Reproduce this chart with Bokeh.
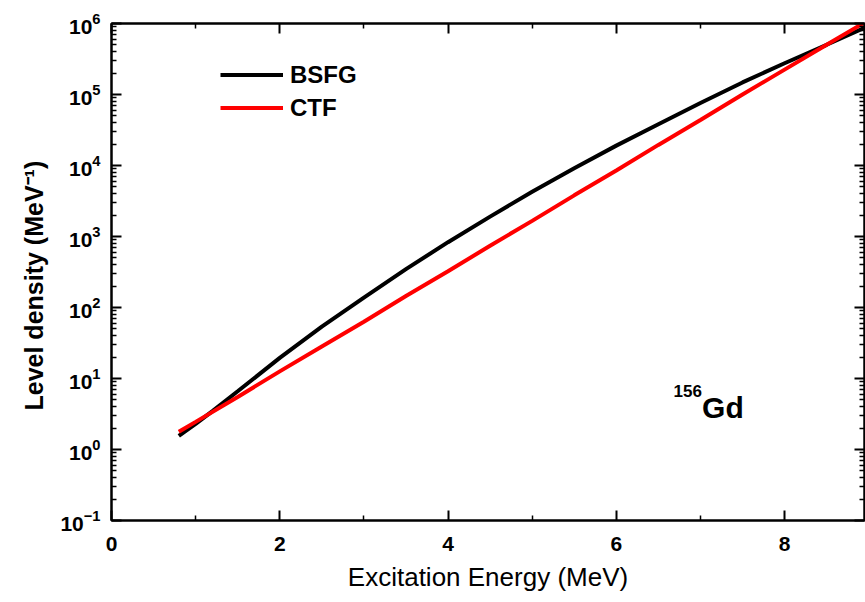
from bokeh.plotting import figure
from bokeh.models import (Range1d, LinearAxis, LogAxis, FixedTicker, Legend,
                          LegendItem, Label, Title)
from bokeh.embed import file_html
from bokeh.resources import INLINE

# ---- data ----
energy = [0.8, 1.0, 1.2, 1.5, 2.0, 2.5, 3.0, 3.5, 4.0, 4.5, 5.0, 5.5,
          6.0, 6.5, 7.0, 7.5, 8.0, 8.5, 8.95]
bsfg = [1.55, 2.29, 3.47, 6.61, 19.5, 53.7, 138.0, 347.0, 832.0, 1905.0,
        4266.0, 9120.0, 19050.0, 38020.0, 75860.0, 147900.0, 275400.0,
        501200.0, 871000.0]
ctf_energy = [0.8, 1.0, 1.5, 2.0, 2.5, 3.0, 3.5, 4.0, 4.5, 5.0, 5.5, 6.0,
              6.5, 7.0, 7.5, 8.0, 8.5, 8.95]
ctf = [1.78, 2.45, 5.5, 12.6, 28.2, 63.0, 145.0, 324.0, 741.0, 1660.0,
       3800.0, 8510.0, 19500.0, 43650.0, 100000.0, 224000.0, 501000.0,
       1030000.0]
series_names = ["BSFG", "CTF"]
x_major_ticks = [0, 2, 4, 6, 8]
x_minor_ticks = [1, 3, 5, 7]
y_major_ticks = [1e-1, 1e0, 1e1, 1e2, 1e3, 1e4, 1e5, 1e6]
y_minor_ticks = [m * d for d in y_major_ticks[:-1] for m in range(2, 10)]
x_title = "Excitation Energy (MeV)"
y_title = "Level density (MeV\u207b\u00b9)"
nucleus_mass = "156"
nucleus_symbol = "Gd"

FONT = "Liberation Sans"
X_START, X_END = 0, 8.95
Y_START, Y_END = 0.1, 1e6

p = figure(width=865, height=594,
           x_range=Range1d(X_START, X_END), y_range=Range1d(Y_START, Y_END),
           y_axis_type="log", output_backend="svg", toolbar_location=None,
           min_border_left=111, min_border_right=1, min_border_top=23,
           min_border_bottom=70)
p.xgrid.visible = False
p.ygrid.visible = False
p.background_fill_color = None
p.border_fill_color = "white"
p.outline_line_color = "black"
p.outline_line_width = 2

xt = FixedTicker(ticks=x_major_ticks, minor_ticks=x_minor_ticks)
yt = FixedTicker(ticks=y_major_ticks, minor_ticks=y_minor_ticks)
p.xaxis.ticker = xt
p.yaxis.ticker = yt


def style_axis(ax, labels=True):
    ax.axis_line_width = 2
    ax.axis_line_color = "black"
    ax.major_tick_in = 10
    ax.major_tick_out = 0
    ax.minor_tick_in = 5
    ax.minor_tick_out = 0
    ax.major_tick_line_width = 2
    ax.minor_tick_line_width = 1.5
    ax.major_tick_line_color = "black"
    ax.minor_tick_line_color = "black"
    if labels:
        ax.major_label_text_font = FONT
        ax.major_label_text_font_style = "bold"
        ax.major_label_text_font_size = "21px"
        ax.major_label_text_color = "black"
        ax.major_label_standoff = 12
    else:
        ax.major_label_text_font_size = "1px"
        ax.major_label_text_color = None
        ax.major_label_standoff = 0


for ax in p.xaxis:
    style_axis(ax)
for ax in p.yaxis:
    style_axis(ax)
p.xaxis.major_label_standoff = 16
p.yaxis.major_label_standoff = 11

p.xaxis.axis_label = x_title
p.xaxis.axis_label_text_font = FONT
p.xaxis.axis_label_text_font_style = "normal"
p.xaxis.axis_label_text_font_size = "26px"
p.xaxis.axis_label_text_color = "black"
p.xaxis.axis_label_standoff = 8

top = LinearAxis(ticker=xt)
style_axis(top, labels=False)
p.add_layout(top, "above")
right = LogAxis(ticker=yt)
style_axis(right, labels=False)
p.add_layout(right, "right")

# y-axis title: a side title, shifted a little below the frame centre
p.add_layout(Title(text=y_title, align="left", offset=110, standoff=19,
                   text_font=FONT, text_font_style="bold",
                   text_font_size="25px", text_color="black"), "left")

r1 = p.line(energy, bsfg, line_color="black", line_width=4)
r2 = p.line(ctf_energy, ctf, line_color="#ff0000", line_width=4)

legend = Legend(items=[LegendItem(label=series_names[0], renderers=[r1]),
                       LegendItem(label=series_names[1], renderers=[r2])],
                location=(109, 396), border_line_color=None,
                background_fill_alpha=0, padding=0, margin=0, spacing=0,
                glyph_width=63, glyph_height=33, label_height=33,
                label_standoff=7, label_text_font=FONT,
                label_text_font_style="bold", label_text_font_size="24px",
                label_text_color="black")
p.add_layout(legend)

p.add_layout(Label(x=7.02, y=3.86, text=nucleus_symbol, text_font=FONT,
                   text_font_style="bold", text_font_size="30px",
                   text_baseline="alphabetic", text_color="black"))
p.add_layout(Label(x=6.68, y=6.6, text=nucleus_mass, text_font=FONT,
                   text_font_style="bold", text_font_size="17px",
                   text_baseline="alphabetic", text_color="black"))

open("out.html", "w").write(file_html(p, INLINE))
